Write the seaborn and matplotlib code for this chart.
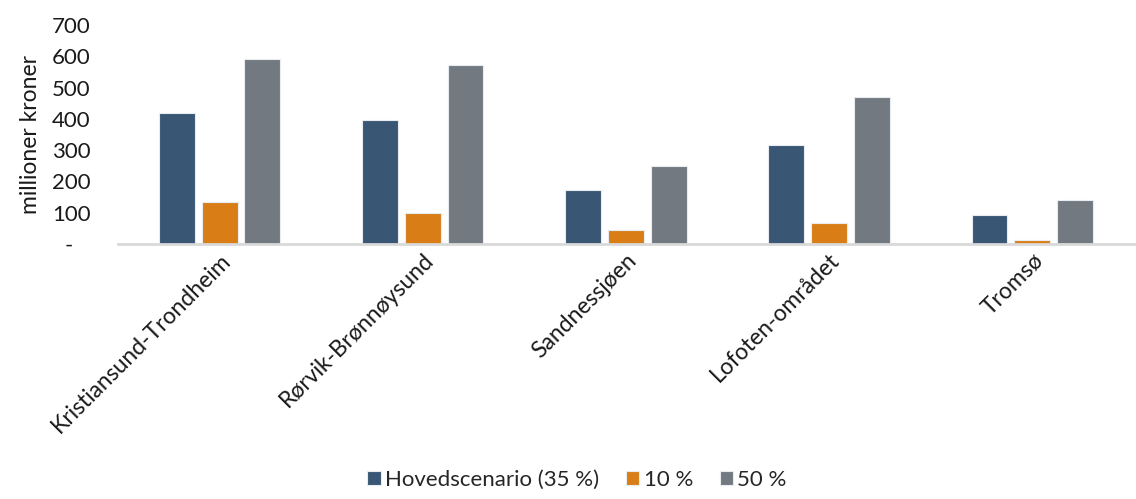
import matplotlib
matplotlib.use("Agg")
import matplotlib.pyplot as plt
import seaborn as sns
import pandas as pd

regions = ["Kristiansund-Trondheim", "Rørvik-Brønnøysund", "Sandnessjøen",
           "Lofoten-området", "Tromsø"]
series_names = ["Hovedscenario (35 %)", "10 %", "50 %"]
hoved = [418, 396, 172, 316, 93]
lav = [134, 99, 45, 67, 13]
hoy = [591, 572, 249, 470, 140]
colors = ["#3a5675", "#d97e17", "#727980"]
yticks = [0, 100, 200, 300, 400, 500, 600, 700]
ytick_labels = ["-   ", "100", "200", "300", "400", "500", "600", "700"]

df = pd.DataFrame({
    "region": regions * 3,
    "scenario": [s for s in series_names for _ in regions],
    "verdi": hoved + lav + hoy,
})

sns.set_theme(style="white")
plt.rcParams["font.family"] = ["Lato", "DejaVu Sans"]

fig = plt.figure(figsize=(11.36, 4.99), dpi=100)
ax = fig.add_axes([0.104, 0.511, 0.894, 0.439])

sns.barplot(data=df, x="region", y="verdi", hue="scenario", order=regions,
            hue_order=series_names, palette=colors, width=0.63, gap=0.16,
            saturation=1, edgecolor="#e8ecf0", linewidth=0.8, ax=ax)

ax.set_ylim(0, 700)
ax.set_xlim(-0.5, len(regions) - 0.5)
ax.set_yticks(yticks)
ax.set_yticklabels(ytick_labels, fontsize=16, color="#1a1a1a")
ax.set_ylabel("millioner kroner", fontsize=16.5, color="#1a1a1a", labelpad=8)
ax.set_xlabel("")
ax.tick_params(axis="both", length=0, pad=4)
ax.tick_params(axis="y", pad=20)
for lab in ax.get_yticklabels():
    lab.set_horizontalalignment("right")
for lab in ax.get_xticklabels():
    lab.set_rotation(45)
    lab.set_horizontalalignment("right")
    lab.set_rotation_mode("anchor")
    lab.set_fontsize(16.5)
    lab.set_color("#1a1a1a")

for side in ["top", "right", "left"]:
    ax.spines[side].set_visible(False)
ax.spines["bottom"].set_color("#d9d9d9")
ax.spines["bottom"].set_linewidth(2)

handles, labels = ax.get_legend_handles_labels()
ax.legend_.remove()
fig.legend(handles, labels, loc="lower center", bbox_to_anchor=(0.508, -0.022),
           ncol=3, frameon=False, fontsize=16, handlelength=0.6,
           handleheight=0.6, handletextpad=0.2, columnspacing=1.2)

fig.savefig("out.png", dpi=100)
